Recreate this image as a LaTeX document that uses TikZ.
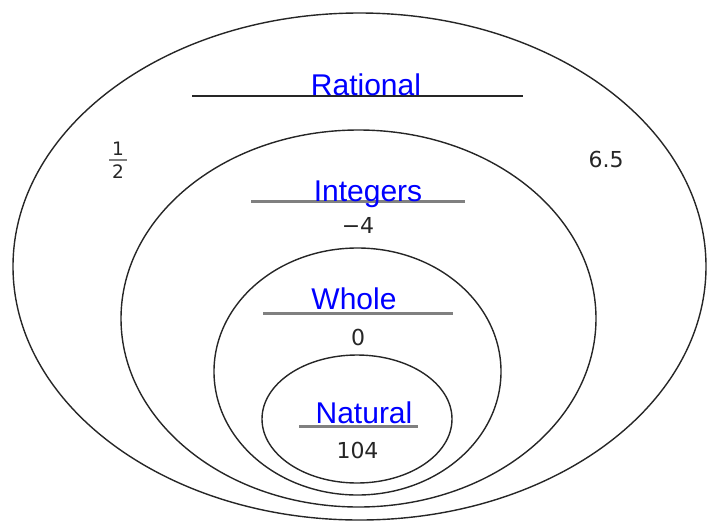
\documentclass[tikz,border=0pt]{standalone}
\usepackage{fontspec}
\setmainfont{Liberation Sans}
\newfontfamily\numfont{DejaVu Sans}
\usepackage{xcolor}
\usetikzlibrary{positioning}

\definecolor{setblue}{RGB}{0,0,255}
\definecolor{bargray}{RGB}{128,128,128}

\begin{document}
\begin{tikzpicture}[x=1pt,y=-1pt,
  setring/.style={draw=black!85,line width=1.4pt},
  settitle/.style={anchor=base,inner sep=0pt,text=setblue,
                   font=\fontsize{30}{30}\selectfont},
  titlebar/.style={draw=bargray,line width=3pt},
  member/.style={anchor=base,inner sep=0pt,text=black!85,
                 font=\numfont\fontsize{22}{22}\selectfont},
  smallmember/.style={member,font=\numfont\fontsize{18.5}{18.5}\selectfont}]
\useasboundingbox (0,0) rectangle (707,523);

% nested sets
\draw[setring] (359.5,266.5) ellipse [x radius=346.5pt, y radius=253.5pt];
\draw[setring] (358.5,318.5) ellipse [x radius=237.5pt, y radius=188.5pt];
\draw[setring] (357.5,371.5) ellipse [x radius=143.5pt, y radius=123.5pt];
\draw[setring] (357,419) ellipse [x radius=95pt, y radius=64pt];

% titles
\draw[titlebar,draw=black!85,line width=2pt] (192,96) -- (523,96);
\node[settitle] (rational) at (366,95) {Rational};
\draw[titlebar] (251,201) -- (465,201);
\node[settitle] (integers) at (368,201) {Integers};
\draw[titlebar] (263,313) -- (453,313);
\node[settitle] (whole) at (354,309) {Whole};
\draw[titlebar] (299,426) -- (418,426);
\node[settitle] (natural) at (364,423) {Natural};

% members
\node[smallmember] (halfnum) at (118,155) {1};
\draw[bargray,line width=1.5pt] (109,160) -- (127,160);
\node[smallmember] (halfden) at (118,178) {2};
\node[member] (sixfive) at (606,167) {6.5};
\node[member] (negfour) at (358,233) {−4};
\node[member] (zero) at (358,345) {0};
\node[member] (onezerofour) at (357.5,458) {104};
\end{tikzpicture}
\end{document}
